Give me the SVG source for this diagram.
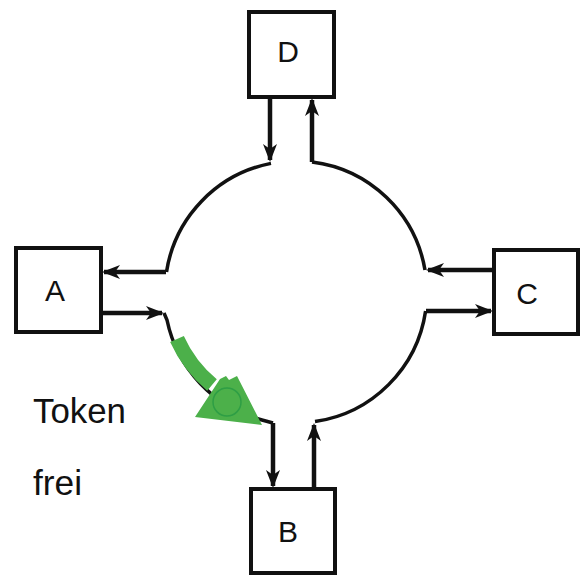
<svg xmlns="http://www.w3.org/2000/svg" width="581" height="576" viewBox="0 0 581 576">
<style>
.box{fill:#fff;stroke:#111;stroke-width:4}
.lbl{font-family:"Liberation Sans",Arial,sans-serif;font-size:30px;fill:#111;text-anchor:middle}
.ring{fill:none;stroke:#111;stroke-width:3.5}
.arr{stroke:#111;stroke-width:4.5;fill:none;marker-end:url(#ah)}
.txt{font-family:"Liberation Sans",Arial,sans-serif;font-size:35px;fill:#111}
</style>
<defs>
<marker id="ah" markerUnits="userSpaceOnUse" markerWidth="24" markerHeight="16" viewBox="-20 -8 24 16" refX="0" refY="0" orient="auto">
<path d="M2,0 L-16,-7 L-11,0 L-16,7 Z" fill="#111"/>
</marker>
</defs>
<g id="connectors">
<path class="ring" d="M166.5,272 A131,131 0 0 1 271,163.4"/>
<path class="ring" d="M312,162 A131,131 0 0 1 425,270"/>
<path class="ring" d="M425.6,311 A131,131 0 0 1 315,421.6"/>
<path class="ring" d="M273,423 L262,420 A131,131 0 0 1 167,320 L164,313"/>
<line class="arr" x1="270" y1="98" x2="270" y2="160"/>
<line class="arr" x1="312" y1="162" x2="312" y2="100"/>
<line class="arr" x1="166" y1="272" x2="104" y2="272"/>
<line class="arr" x1="102" y1="313" x2="162" y2="313"/>
<line class="arr" x1="493" y1="270" x2="428" y2="270"/>
<line class="arr" x1="426" y1="311" x2="491" y2="311"/>
<line class="arr" x1="273" y1="423" x2="273" y2="486"/>
<line class="arr" x1="314" y1="488" x2="314" y2="425"/>
</g>
<g id="token">
<path d="M177,339 A128,128 0 0 0 212,385" fill="none" stroke="#4cb04a" stroke-width="15"/>
<polygon points="195,417 220,379 226,376 229,380 237,376 262,425" fill="#4cb04a"/>
<circle cx="227" cy="402" r="14" fill="#4cb04a" stroke="#2e9e45" stroke-width="1.5"/>
</g>
<g id="D"><rect class="box" x="249" y="12" width="85" height="85"/><text class="lbl" x="288" y="62">D</text></g>
<g id="A"><rect class="box" x="16" y="248" width="85" height="84"/><text class="lbl" x="55" y="301">A</text></g>
<g id="C"><rect class="box" x="494" y="250" width="84" height="84"/><text class="lbl" x="527" y="304">C</text></g>
<g id="B"><rect class="box" x="251" y="489" width="84" height="84"/><text class="lbl" x="288" y="542">B</text></g>
<g id="label">
<text class="txt" x="33" y="423" textLength="93" lengthAdjust="spacingAndGlyphs">Token</text>
<text class="txt" x="33" y="495" textLength="49" lengthAdjust="spacingAndGlyphs">frei</text>
</g>
</svg>
